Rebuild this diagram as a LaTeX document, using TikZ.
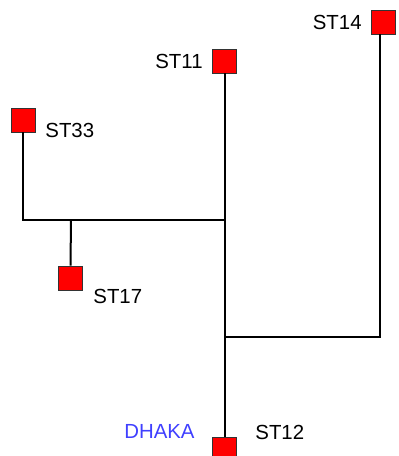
\documentclass[tikz,border=0pt]{standalone}
\usepackage{fontspec}
\setmainfont{Liberation Sans}
\begin{document}
\begin{tikzpicture}[
    x=0.5pt,y=-0.5pt,
    every node/.style={font=\fontsize{10.2}{12}\selectfont, inner sep=0pt},
    wire/.style={draw=black, line width=1pt},
    station/.style={draw=black!80, line width=0.4pt, fill=red, minimum size=12pt, inner sep=0pt},
    city/.style={text=blue!75}
]
    \useasboundingbox (0,0) rectangle (398,456);

    % stations
    \node[station] (st14) at (383,22)   {};
    \node[station] (st11) at (224.5,61) {};
    \node[station] (st33) at (23,120)   {};
    \node[station] (st17) at (70.5,278) {};
    \node[station] (st12) at (224.5,449) {};

    \node[anchor=east] (l14) at (362,22)  {ST14};
    \node[anchor=east] (l11) at (203,61)  {ST11};
    \node[anchor=west] (l33) at (45,130)  {ST33};
    \node[anchor=west] (l17) at (93,296)  {ST17};
    \node[anchor=west] (l12) at (255,432) {ST12};
    \node[city, anchor=east] (dhaka) at (195,431) {DHAKA};

    % junctions
    \coordinate (j33) at (23,220);
    \coordinate (j17) at (71,220);
    \coordinate (j14) at (380,337);

    \draw[wire] (st11.south) -- (st12.north);
    \draw[wire] (st33.south) -- (j33) -- (j33 -| st11);
    \draw[wire] (j17) -- (st17.north);
    \draw[wire] (j14 |- st14.south) -- (j14) -- (j14 -| st11);
\end{tikzpicture}
\end{document}
